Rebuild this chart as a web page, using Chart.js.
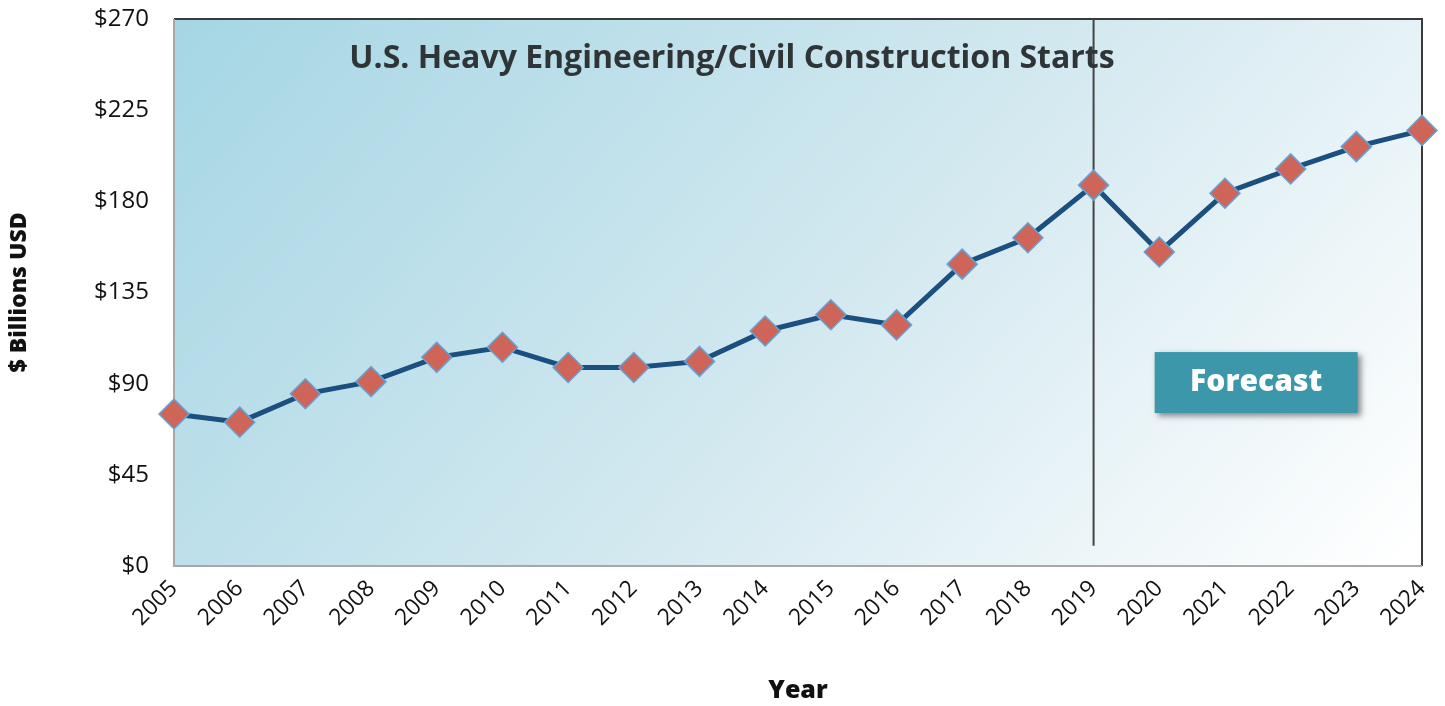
<!DOCTYPE html>
<html>
<head>
<meta charset="utf-8">
<script src="https://cdn.jsdelivr.net/npm/chart.js@4.4.1/dist/chart.umd.min.js"></script>
<style>
  html, body { margin: 0; padding: 0; background: #fff; }
  #wrap { width: 1445px; height: 706px; }
</style>
</head>
<body>
<div id="wrap"><canvas id="startsChart"></canvas></div>
<script>
// data
const years = ["2005", "2006", "2007", "2008", "2009", "2010", "2011", "2012", "2013", "2014",
  "2015", "2016", "2017", "2018", "2019", "2020", "2021", "2022", "2023", "2024"];
const starts = [75, 71, 85, 91, 103, 108, 98, 98, 101, 116,
  124, 119, 149, 162, 188, 155, 184, 196, 207, 215];
const yTicks = [0, 45, 90, 135, 180, 225, 270];
const forecastFrom = "2019";
const chartTitle = "U.S. Heavy Engineering/Civil Construction Starts";
const forecastLabel = "Forecast";

const FONT = "'Open Sans', Lato, sans-serif";

// background gradient, borders, forecast divider and label box
const decorPlugin = {
  id: "decor",
  beforeDatasetsDraw(chart) {
    const { ctx, chartArea: a, scales } = chart;
    ctx.save();
    const g = ctx.createLinearGradient(a.left, a.top, a.right * 0.8, a.bottom + 300);
    g.addColorStop(0, "#a5d6e4");
    g.addColorStop(0.55, "#d4e9f0");
    g.addColorStop(1, "#ffffff");
    ctx.fillStyle = g;
    ctx.fillRect(a.left, a.top, a.right - a.left, a.bottom - a.top);

    // frame: dark top/right, grey left/bottom
    ctx.lineWidth = 2;
    ctx.strokeStyle = "#3a3a3a";
    ctx.beginPath();
    ctx.moveTo(a.left, a.top);
    ctx.lineTo(a.right, a.top);
    ctx.lineTo(a.right, a.bottom);
    ctx.stroke();
    ctx.strokeStyle = "#a8a8a8";
    ctx.beginPath();
    ctx.moveTo(a.left, a.top);
    ctx.lineTo(a.left, a.bottom);
    ctx.lineTo(a.right, a.bottom);
    ctx.stroke();

    // forecast divider
    const xf = scales.x.getPixelForValue(years.indexOf(forecastFrom));
    ctx.strokeStyle = "#444";
    ctx.lineWidth = 2;
    ctx.beginPath();
    ctx.moveTo(xf, a.top);
    ctx.lineTo(xf, scales.y.getPixelForValue(10));
    ctx.stroke();

    // title inside plot
    ctx.fillStyle = "#2f3437";
    ctx.font = "bold 32px " + FONT;
    ctx.textAlign = "center";
    ctx.textBaseline = "middle";
    ctx.fillText(chartTitle, 732, 59);

    // forecast box
    const bx0 = scales.x.getPixelForValue(14.93);
    const bx1 = scales.x.getPixelForValue(18.02);
    const by0 = scales.y.getPixelForValue(105.6);
    const by1 = scales.y.getPixelForValue(75.5);
    ctx.shadowColor = "rgba(0,0,0,0.45)";
    ctx.shadowBlur = 6;
    ctx.shadowOffsetX = 3;
    ctx.shadowOffsetY = 3;
    ctx.fillStyle = "#3b97a9";
    ctx.fillRect(bx0, by0, bx1 - bx0, by1 - by0);
    ctx.shadowColor = "transparent";
    ctx.fillStyle = "#ffffff";
    ctx.font = "800 30px " + FONT;
    ctx.fillText(forecastLabel, (bx0 + bx1) / 2, (by0 + by1) / 2);
    ctx.restore();
  }
};

const ctx = document.getElementById("startsChart").getContext("2d");
new Chart(ctx, {
  type: "line",
  data: {
    labels: years,
    datasets: [{
      data: starts,
      borderColor: "#1b4f80",
      borderWidth: 5,
      tension: 0,
      pointStyle: "rectRot",
      pointRadius: 15,
      pointHoverRadius: 15,
      pointBackgroundColor: "#cf6459",
      pointBorderColor: "#63a3d6",
      pointBorderWidth: 1.5,
      clip: false
    }]
  },
  options: {
    responsive: true,
    maintainAspectRatio: false,
    animation: false,
    layout: { padding: { left: 6, right: 23, top: 19, bottom: 0 } },
    plugins: {
      legend: { display: false },
      tooltip: { enabled: false }
    },
    scales: {
      x: {
        offset: false,
        grid: { display: false, drawTicks: false },
        border: { display: false },
        ticks: {
          color: "#111",
          font: { family: FONT, size: 23 },
          maxRotation: 45,
          minRotation: 45,
          padding: 9
        },
        title: {
          display: true,
          text: "Year",
          color: "#111",
          font: { family: FONT, size: 25, weight: "800" },
          padding: { top: 0, bottom: 0 }
        },
        afterFit(s) {
          s.height = 140;
          s.paddingLeft = 0;
          s.paddingRight = 0;
        }
      },
      y: {
        min: 0,
        max: 270,
        grid: { display: false, drawTicks: false },
        border: { display: false },
        afterBuildTicks(s) { s.ticks = yTicks.map(v => ({ value: v })); },
        ticks: {
          color: "#111",
          font: { family: FONT, size: 24 },
          padding: 25,
          callback: v => "$" + v
        },
        title: {
          display: true,
          text: "$ Billions USD",
          color: "#111",
          font: { family: FONT, size: 23, weight: "800" },
          padding: { top: 0, bottom: 0 }
        },
        afterFit(s) {
          s.width = 168;
          s.paddingTop = 0;
          s.paddingBottom = 0;
        }
      }
    }
  },
  plugins: [decorPlugin]
});
</script>
</body>
</html>
